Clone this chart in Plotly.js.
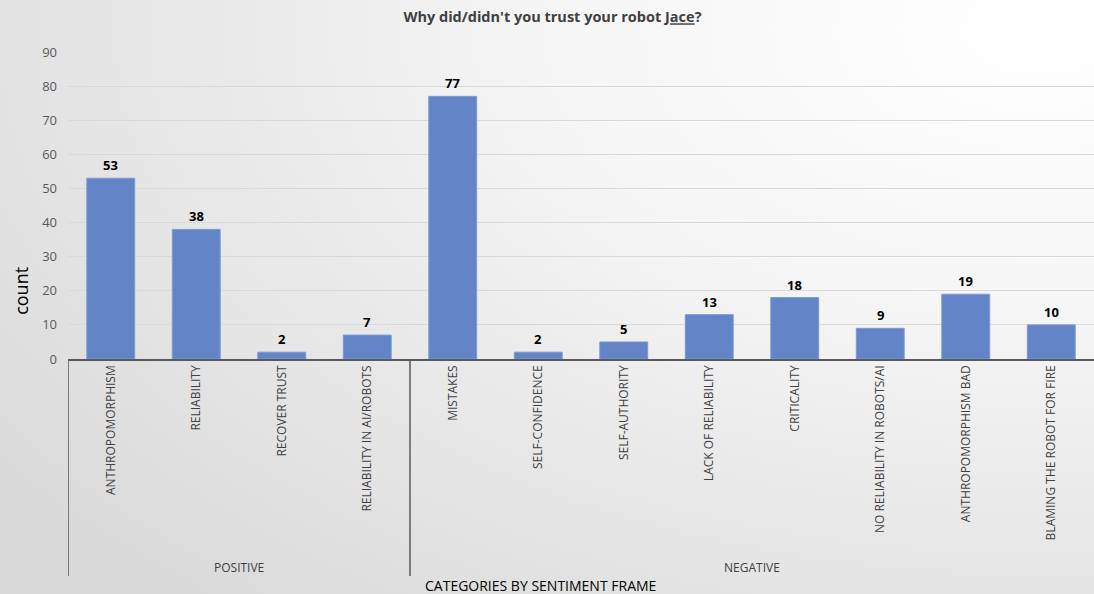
<!DOCTYPE html>
<html>
<head>
<meta charset="utf-8">
<script src="https://cdn.plot.ly/plotly-3.0.1.min.js"></script>
<style>
  html, body { margin:0; padding:0; }
  body {
    width:1094px; height:594px; overflow:hidden;
    background: radial-gradient(ellipse 120% 130% at 95% 5%, #ffffff 0%, #f6f6f6 35%, #e6e6e6 70%, #d9d9d9 100%);
  }
  #chart { width:1094px; height:594px; }
</style>
</head>
<body>
<div id="chart"></div>
<script>
const categories = ["ANTHROPOMORPHISM","RELIABILITY","RECOVER TRUST","RELIABILITY IN AI/ROBOTS",
  "MISTAKES","SELF-CONFIDENCE","SELF-AUTHORITY","LACK OF RELIABILITY","CRITICALITY",
  "NO RELIABILITY IN ROBOTS/AI","ANTHROPOMORPHISM BAD","BLAMING THE ROBOT FOR FIRE"];
const counts = [53, 38, 2, 7, 77, 2, 5, 13, 18, 9, 19, 10];
const groups = ["POSITIVE","NEGATIVE"];
const groupSizes = [4, 8];
const yTicks = [0,10,20,30,40,50,60,70,80,90];

const idx = categories.map((_, i) => i);

const trace = {
  type: 'bar',
  x: idx,
  y: counts,
  width: 0.56,
  marker: { color: '#6384C6', line: { color: '#7d99d3', width: 1 } },
  hoverinfo: 'skip'
};

const annotations = counts.map((v, i) => ({
  x: i, y: v, xref: 'x', yref: 'y', text: '<b>' + v + '</b>',
  showarrow: false, yanchor: 'bottom', yshift: 2,
  font: { family: 'Open Sans, sans-serif', size: 13, color: '#000000' }
}));

const shapes = [];
let start = 0;
const lineCol = '#595959';
shapes.push({ type:'line', xref:'x', yref:'paper', x0:-0.5, x1:-0.5, y0:0, y1:-0.707, line:{color:lineCol, width:1.5} });
groups.forEach((g, gi) => {
  const end = start + groupSizes[gi];
  annotations.push({
    x: (start + end - 1) / 2, y: -0.678, xref: 'x', yref: 'paper', text: g,
    showarrow: false, yanchor: 'middle',
    font: { family: 'Open Sans, sans-serif', size: 12, color: '#404040' }
  });
  if (gi < groups.length - 1) {
    shapes.push({ type:'line', xref:'x', yref:'paper', x0:end-0.5, x1:end-0.5, y0:0, y1:-0.707, line:{color:lineCol, width:1.5} });
  }
  start = end;
});

annotations.push({
  x: 0.461, y: -0.738, xref: 'paper', yref: 'paper', text: 'CATEGORIES BY SENTIMENT FRAME',
  showarrow: false, yanchor: 'middle',
  font: { family: 'Open Sans, sans-serif', size: 14, color: '#000000' }
});

annotations.push({
  x: 21, y: 0.222, xref: 'paper', yref: 'paper', xanchor: 'center', yanchor: 'middle',
  text: 'count', showarrow: false, textangle: -90,
  font: { family: 'Open Sans, sans-serif', size: 18, color: '#000000' }
});
// fix x position of the axis label in pixels relative to plot area
annotations[annotations.length - 1].x = (21 - 68) / 1026;

const layout = {
  width: 1094, height: 594,
  margin: { l: 68, r: 0, t: 52, b: 235 },
  paper_bgcolor: 'rgba(0,0,0,0)',
  plot_bgcolor: 'rgba(0,0,0,0)',
  title: {
    text: '<b>Why did/didn\'t you trust your robot <u>Jace</u>?</b>',
    x: 0.505, xanchor: 'center', y: 0.971, yanchor: 'middle',
    font: { family: 'Open Sans, sans-serif', size: 14.5, color: '#404040' }
  },
  showlegend: false,
  bargap: 0,
  xaxis: {
    range: [-0.5, 11.5],
    tickmode: 'array', tickvals: idx, ticktext: categories,
    tickangle: -90,
    tickfont: { family: 'Open Sans, sans-serif', size: 12, color: '#404040' },
    showgrid: false, zeroline: false,
    showline: true, linecolor: lineCol, linewidth: 1.5,
    ticks: '', automargin: false, fixedrange: true
  },
  yaxis: {
    range: [0, 90],
    tickmode: 'array', tickvals: yTicks,
    tickfont: { family: 'Open Sans, sans-serif', size: 13, color: '#595959' },
    showgrid: true, gridcolor: '#d9d9d9', gridwidth: 1,
    zeroline: false, showline: false, ticks: '',
    ticklabelstandoff: 10,
    automargin: false
  },
  annotations: annotations,
  shapes: shapes
};

Plotly.newPlot('chart', [trace], layout, { displayModeBar: false, staticPlot: true });
</script>
</body>
</html>
